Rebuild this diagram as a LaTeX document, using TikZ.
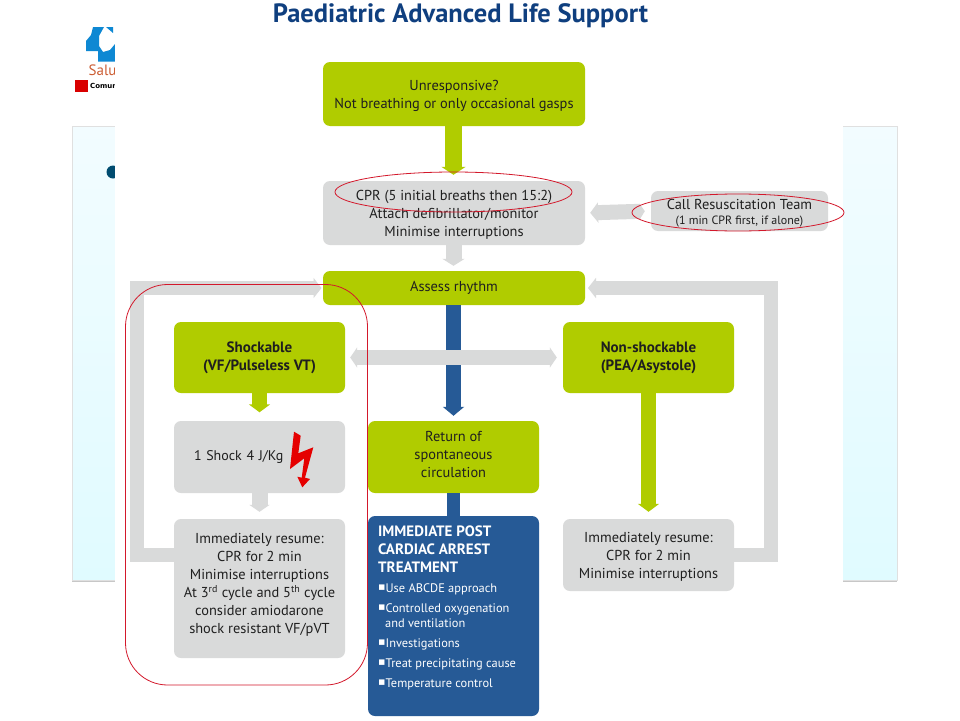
\documentclass[tikz,border=0pt]{standalone}
\usepackage{fontspec}
\setmainfont{PT Sans}
\newfontfamily\dejavu{DejaVu Sans}
\newcommand{\sqb}{\raisebox{1.5pt}{\dejavu\fontsize{11}{11}\selectfont ▪}}
\usetikzlibrary{arrows.meta}
\definecolor{lime}{HTML}{B0CC00}
\definecolor{lgray}{HTML}{D9DADA}
\definecolor{navy}{HTML}{265A96}
\definecolor{titleblue}{HTML}{0F3F7F}
\definecolor{redline}{HTML}{D3182B}
\definecolor{panelA}{HTML}{F2FCFF}
\definecolor{panelB}{HTML}{E0FBFF}
\tikzset{
 x=1pt,y=-1pt,
 box/.style={rounded corners=7pt,minimum width=#1,inner sep=0pt,align=center,anchor=center,text=black!88,font=\fontsize{14.4}{18}\selectfont},
 limebox/.style={box=#1,fill=lime},
 graybox/.style={box=#1,fill=lgray},
 limearrow/.style={draw=lime,line width=15pt,-{Triangle[length=8pt,width=21pt]}},
 grayarrow/.style={draw=lgray,line width=14.5pt,-{Triangle[length=8pt,width=20pt]}},
 bluearrow/.style={draw=navy,line width=15pt,-{Triangle[length=9pt,width=21pt]}},
 redmark/.style={draw=redline,line width=0.8pt},
}
\begin{document}
\begin{tikzpicture}
\useasboundingbox (0,0) rectangle (960,720);
\fill[white] (0,0) rectangle (960,720);
% backdrop panel and logo
\fill[black!22] (72,578) rectangle (897,581.5);
\shade[top color=panelA,bottom color=panelB,draw=black!12,line width=0.5pt] (72,126) rectangle (897,580);
\fill[black!80!blue!70!cyan] (113,172) circle (6.5);
\fill[cyan!70!blue] (93,27) -- (104,27) -- (99,36) -- (99,46) -- (103,52) -- (110,50) -- (115,44) -- (115,61.5) -- (98,61.5) -- (98,51) -- (86,51) -- (86,41) -- (91,35) -- cycle;
\fill[cyan!70!blue] (106,27) -- (113,27) -- (113,33) -- cycle;
\node[font=\fontsize{15}{15}\selectfont,text=red!45!orange!60!gray,anchor=west,inner sep=0pt] (salud) at (88.5,70) {Salu};
\fill[red!85!black] (75,80) rectangle (87.5,92);
\node[font=\dejavu\bfseries\fontsize{7}{7}\selectfont,text=black,anchor=west,inner sep=0pt] (comun) at (90,86) {Comun};
\fill[white] (115,0) rectangle (843,720);
% title
\node[font=\bfseries\fontsize{26.5}{26.5}\selectfont,text=titleblue,inner sep=0pt] (title) at (460.5,15.5) {Paediatric Advanced Life Support};
% boxes
\node[limebox=262pt,minimum height=64pt] (start) at (454,94) {\rule{0pt}{14pt}Unresponsive?\\Not breathing or only occasional gasps};
\node[graybox=262pt,minimum height=64pt] (cpr) at (454,213) {\rule{0pt}{13pt}CPR (5 initial breaths then 15:2)\\Attach defibrillator/monitor\\Minimise interruptions};
\node[graybox=177pt,minimum height=40pt] (team) at (739.5,211) {\rule{0pt}{14pt}Call Resuscitation Team\\[-3pt]{\fontsize{12}{13}\selectfont (1 min CPR first, if alone)}};
\node[limebox=262pt,minimum height=34pt] (assess) at (454,288) {Assess rhythm};
\node[limebox=171pt,minimum height=71pt,font=\bfseries\fontsize{15}{18}\selectfont] (shock) at (259.5,357.5) {Shockable\\(VF/Pulseless VT)};
\node[limebox=171pt,minimum height=71pt,font=\bfseries\fontsize{15}{18}\selectfont] (nonshock) at (648.5,357.5) {Non-shockable\\(PEA/Asystole)};
\node[graybox=171pt,minimum height=72pt,text width=171pt,align=left,font=\fontsize{14}{18}\selectfont] (oneshock) at (259.5,457) {\hspace*{20pt}\raisebox{-1.5pt}{1 Shock 4 J/Kg}};
\node[limebox=171pt,minimum height=72pt] (rosc) at (453.5,457) {Return of\\spontaneous\\circulation\rule[-6pt]{0pt}{6pt}};
\node[graybox=171pt,minimum height=139pt] (resumeA) at (259.5,588.5) {Immediately resume:\\CPR for 2 min\\Minimise interruptions\\At 3\textsuperscript{rd} cycle and 5\textsuperscript{th} cycle\\consider amiodarone\\shock resistant VF/pVT\rule[-10pt]{0pt}{10pt}};
\node[graybox=171pt,minimum height=72pt] (resumeB) at (648.5,555) {\rule{0pt}{14pt}Immediately resume:\\CPR for 2 min\\Minimise interruptions};
\node[box=171pt,fill=navy,minimum height=200pt] (post) at (453.5,616) {};
\node[anchor=north west,inner sep=0pt,align=left,text=white,font=\bfseries\fontsize{15}{18}\selectfont] (posthead) at (378,526) {IMMEDIATE POST\\CARDIAC ARREST\\TREATMENT};
\node[anchor=north west,inner sep=0pt,align=left,text=white,font=\fontsize{12.4}{15}\selectfont] (postlist) at (378,583) {\sqb Use ABCDE approach\\[5pt]\sqb Controlled oxygenation\\\hspace*{7pt}and ventilation\\[5pt]\sqb Investigations\\[5pt]\sqb Treat precipitating cause\\[5pt]\sqb Temperature control};
% connectors
\coordinate (l1) at (174,555); \coordinate (l2) at (137,555); \coordinate (l3) at (137,288); \coordinate (l4) at (323,288);
\coordinate (r1) at (734,555); \coordinate (r2) at (771,555); \coordinate (r3) at (771,288); \coordinate (r4) at (585,288);
\draw[grayarrow,miter limit=10,shorten >=1.5pt] (l1) -- (l2) -- (l3) -- (l4);
\draw[grayarrow,miter limit=10,shorten >=3pt] (r1) -- (r2) -- (r3) -- (r4);
\draw[draw=lime,line width=17pt,-{Triangle[length=8pt,width=24pt]},shorten >=6pt] (start.south -| 453.5,0) -- (cpr.north -| 453.5,0);
\draw[draw=lgray,line width=15pt,{Triangle[length=5pt,width=15pt]}-{Triangle[length=8pt,width=20pt]},shorten <=6pt,shorten >=5pt] (team.west) -- (cpr.east);
\draw[draw=lgray,line width=16pt,-{Triangle[length=7pt,width=22pt]},shorten >=5pt] (cpr.south -| 453.5,0) -- (assess.north -| 453.5,0);
\draw[bluearrow,shorten >=5pt] (assess.south -| 453.5,0) -- (rosc.north);
\draw[draw=navy,line width=13pt] (rosc.south) -- (post.north);
\draw[draw=lgray,line width=14.5pt,{Triangle[length=7pt,width=20pt]}-{Triangle[length=7pt,width=20pt]},shorten <=5pt,shorten >=6pt] (shock.east) -- (nonshock.west);
\draw[limearrow,shorten >=8.5pt] (shock.south) -- (oneshock.north);
\draw[draw=lgray,line width=16pt,-{Triangle[length=7pt,width=20pt]},shorten >=7pt] (oneshock.south) -- (resumeA.north);
\draw[limearrow,shorten >=7pt] (nonshock.south) -- (resumeB.north);
% lightning bolt
\fill[red!90!black] (294,431.7) -- (300.7,435.7) -- (298.3,453.3) -- (313.3,447.3) -- (305,477.7) -- (310,479) -- (302.3,487.3) -- (297.3,476.7) -- (301.7,477.7) -- (304.3,458.3) -- (290,469) -- cycle;
% red annotations
\draw[redmark] (453.5,192) ellipse [x radius=118.5,y radius=20];
\draw[redmark] (738,212.5) ellipse [x radius=106,y radius=18.5];
\draw[redmark,rounded corners=42pt] (125.5,284.5) rectangle (367.5,685);
\end{tikzpicture}
\end{document}
